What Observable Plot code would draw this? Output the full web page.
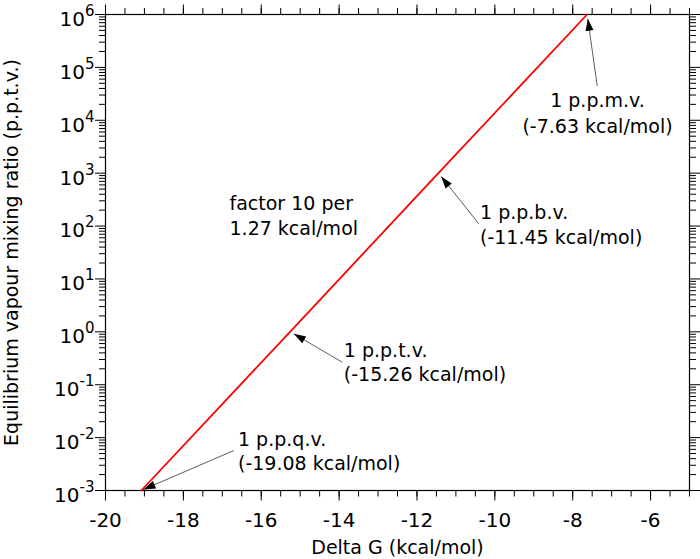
<!DOCTYPE html>
<html>
<head>
<meta charset="utf-8">
<script src="https://cdn.jsdelivr.net/npm/d3@7"></script>
<script src="https://cdn.jsdelivr.net/npm/@observablehq/plot@0.6"></script>
<style>
  html, body { margin: 0; padding: 0; background: #fff; }
  #chart { width: 700px; height: 559px; }
</style>
</head>
<body>
<div id="chart"></div>
<script>
// ---- data ----
const deltaG = [-19.08, -15.26, -11.45, -7.63];          // kcal/mol
const mixingRatio = [1e-3, 1, 1e3, 1e6];                  // p.p.t.v.

// tick values / labels
const xMajorTicks = [-20, -18, -16, -14, -12, -10, -8, -6];
const xMinorTicks = [-20, -19.5, -19, -18.5, -18, -17.5, -17, -16.5, -16, -15.5, -15, -14.5, -14, -13.5, -13, -12.5, -12, -11.5, -11, -10.5, -10, -9.5, -9, -8.5, -8, -7.5, -7, -6.5, -6, -5.5, -5];
const yMajorTicks = [1e-3, 1e-2, 1e-1, 1, 1e1, 1e2, 1e3, 1e4, 1e5, 1e6];
const yExponentLabels = ["-3", "-2", "-1", "0", "1", "2", "3", "4", "5", "6"];
const yMinorMultipliers = [2, 3, 4, 5, 6, 7, 8, 9];

// annotations
const annotationLabels = [
  "1 p.p.q.v.\n(-19.08 kcal/mol)",
  "1 p.p.t.v.\n(-15.26 kcal/mol)",
  "1 p.p.b.v.\n(-11.45 kcal/mol)",
  "1 p.p.m.v.\n(-7.63 kcal/mol)"
];
const annotationX = [-16.597, -13.879, -10.381, -7.363];
const annotationY = [5.81e-3, 0.280, 111.7, 14450];
const annotationAnchor = ["start", "start", "start", "middle"];

const arrowFromX = [-16.705, -13.920, -10.412, -7.370];
const arrowFromY = [5.70e-3, 0.2667, 110.4, 44460];
const arrowToX = [-19.024, -15.163, -11.378, -7.612];
const arrowToY = [1.045e-3, 0.918, 865, 8.30e5];

const slopeNote = "factor 10 per\n1.27 kcal/mol";
const slopeNoteX = -16.815;
const slopeNoteY = 163;

const xTitle = "Delta G (kcal/mol)";
const yTitle = "Equilibrium vapour mixing ratio (p.p.t.v.)";

// ---- derived tables ----
const yMinorTicks = [];
yMajorTicks.slice(0, -1).forEach(t => yMinorMultipliers.forEach(m => yMinorTicks.push(t * m)));

const curve = deltaG.map((g, i) => ({g, r: mixingRatio[i]}));
const notes = annotationLabels.map((t, i) => ({t, x: annotationX[i], y: annotationY[i], a: annotationAnchor[i]}));
const arrows = arrowFromX.map((x1, i) => ({x1, y1: arrowFromY[i], x2: arrowToX[i], y2: arrowToY[i]}));

const FONT = "'DejaVu Sans', 'Lucida Grande', sans-serif";
const tickOnly = {tickFormat: () => "", fill: "none", label: null};

const plot = Plot.plot({
  width: 700,
  height: 559,
  marginLeft: 105,
  marginRight: 11,
  marginTop: 14,
  marginBottom: 69,
  style: {fontFamily: FONT, fontSize: "19px", color: "black", background: "white"},
  x: {domain: [-20, -5]},
  y: {type: "log", domain: [1e-3, 1e6]},
  marks: [
    // bottom axis
    Plot.axisX({anchor: "bottom", ticks: xMinorTicks, tickSize: 6.5, ...tickOnly}),
    Plot.axisX({anchor: "bottom", ticks: xMajorTicks, tickSize: 10.5, ...tickOnly}),
    Plot.axisX({anchor: "bottom", ticks: xMajorTicks, tickSize: 0, tickPadding: 22,
      tickFormat: d => String(d), fontSize: 20, label: null}),
    // top axis
    Plot.axisX({anchor: "top", ticks: xMinorTicks, tickSize: 7, ...tickOnly}),
    Plot.axisX({anchor: "top", ticks: xMajorTicks, tickSize: 10.5, ...tickOnly}),
    // left axis
    Plot.axisY({anchor: "left", ticks: yMinorTicks, tickSize: 6, ...tickOnly}),
    Plot.axisY({anchor: "left", ticks: yMajorTicks, tickSize: 10, ...tickOnly}),
    Plot.axisY({anchor: "left", ticks: yMajorTicks, tickSize: 0, tickPadding: 11, dy: 5,
      tickFormat: d => "10^" + yExponentLabels[yMajorTicks.indexOf(d)], fontSize: 20, label: null}),
    // right axis
    Plot.axisY({anchor: "right", ticks: yMinorTicks, tickSize: 6, ...tickOnly}),
    Plot.axisY({anchor: "right", ticks: yMajorTicks, tickSize: 10.5, ...tickOnly}),
    Plot.frame({stroke: "black", strokeWidth: 1.2}),
    // data line
    Plot.line(curve, {x: "g", y: "r", stroke: "#ff0000", strokeWidth: 1.8}),
    // arrows
    Plot.link(arrows, {x1: "x1", y1: "y1", x2: "x2", y2: "y2", stroke: "#333", strokeWidth: 0.8, markerEnd: "arrow"}),
    // annotation texts
    Plot.text(notes.filter(d => d.a === "start"), {x: "x", y: "y", text: "t", textAnchor: "start", lineHeight: 1.29, fontSize: 19, fill: "black"}),
    Plot.text(notes.filter(d => d.a === "middle"), {x: "x", y: "y", text: "t", textAnchor: "middle", lineHeight: 1.33, fontSize: 19, fill: "black"}),
    Plot.text([slopeNote], {x: slopeNoteX, y: slopeNoteY, text: d => d, textAnchor: "start", lineHeight: 1.29, fontSize: 19, fill: "black"}),
    // axis titles
    Plot.text([xTitle], {frameAnchor: "bottom", text: d => d, textAnchor: "middle", lineAnchor: "bottom", dy: 63, fontSize: 19, fill: "black"}),
    Plot.text([yTitle], {frameAnchor: "left", text: d => d, rotate: -90, textAnchor: "middle", lineAnchor: "bottom", dx: -87.5, fontSize: 19, fill: "black"})
  ]
});

// superscript exponents on y tick labels
const svgns = "http://www.w3.org/2000/svg";
plot.querySelectorAll("text").forEach(t => {
  const m = /^10\^(.+)$/.exec(t.textContent);
  if (!m) return;
  t.textContent = "10";
  const sup = document.createElementNS(svgns, "tspan");
  sup.setAttribute("dy", "-10");
  sup.setAttribute("font-size", "15");
  sup.textContent = m[1];
  t.appendChild(sup);
});

// filled arrowheads
plot.querySelectorAll("marker").forEach(mk => {
  mk.setAttribute("viewBox", "-13 -5 13 10");
  mk.setAttribute("markerUnits", "userSpaceOnUse");
  mk.setAttribute("markerWidth", "13");
  mk.setAttribute("markerHeight", "10");
  mk.setAttribute("fill", "black");
  mk.setAttribute("stroke", "none");
  while (mk.firstChild) mk.removeChild(mk.firstChild);
  const p = document.createElementNS(svgns, "path");
  p.setAttribute("d", "M0,0L-12,-4L-12,4Z");
  mk.appendChild(p);
});

document.getElementById("chart").appendChild(plot);
</script>
</body>
</html>
